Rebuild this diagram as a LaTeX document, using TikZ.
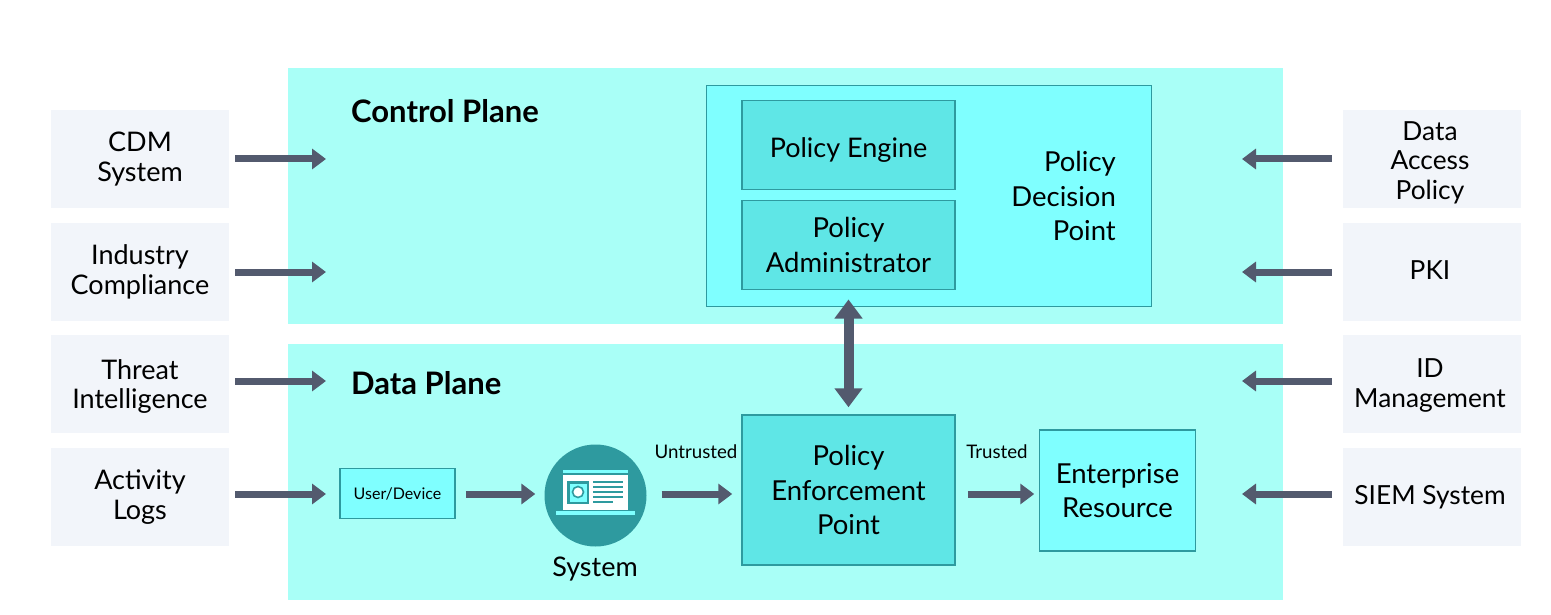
\documentclass[tikz,border=0pt]{standalone}
\usepackage{fontspec}
\setmainfont{Lato}
\usetikzlibrary{arrows.meta}
\definecolor{plane}{HTML}{A9FFF7}
\definecolor{light}{HTML}{7FFFFF}
\definecolor{mid}{HTML}{5FE6E6}
\definecolor{edge}{HTML}{2E9A9F}
\definecolor{teal}{HTML}{2E9A9F}
\definecolor{srcbox}{HTML}{F2F5FA}
\definecolor{flowc}{HTML}{535A6E}
\newcommand{\tophold}[1]{\rule{0pt}{#1pt}}
\newcommand{\rgt}{\rule{4pt}{0pt}}
\tikzset{
  x=1pt,y=-1pt,
  txt/.style={font=\fontsize{27}{29.5}\selectfont,align=center,text=black,inner sep=0pt},
  bigtxt/.style={font=\fontsize{27.5}{34.5}\selectfont,align=center,text=black,inner sep=0pt},
  src/.style={fill=srcbox,draw=none,minimum width=178pt,minimum height=98pt,inner sep=0pt,txt},
  rsrc/.style={src,font=\fontsize{26.3}{29.5}\selectfont},
  planebox/.style={fill=plane,draw=none,inner sep=0pt},
  lightbox/.style={fill=light,draw=edge,line width=1.5pt,inner sep=0pt},
  midbox/.style={fill=mid,draw=edge,line width=1.5pt,inner sep=0pt,bigtxt},
  flow/.style={draw=flowc,line width=7pt,-{Triangle[length=14pt,width=20pt]}},
  biflow/.style={draw=flowc,line width=10pt,{Triangle[length=19pt,width=27pt]}-{Triangle[length=19pt,width=27pt]}},
  heading/.style={font=\fontsize{31}{33}\selectfont\bfseries,text=black,inner sep=0pt,anchor=west},
  small/.style={font=\fontsize{18.7}{20}\selectfont,text=black,inner sep=0pt},
}
\begin{document}
\begin{tikzpicture}
\useasboundingbox (0,0) rectangle (1551,615);
\fill[white] (0,0) rectangle (1551,615);
% planes
\node[planebox,minimum width=995pt,minimum height=256pt] (cp) at (785.5,196) {};
\node[planebox,minimum width=995pt,minimum height=256pt] (dp) at (785.5,472) {};
\node[heading] (cpt) at (351,111) {Control Plane};
\node[heading] (dpt) at (351,383) {Data Plane};
% left sources
\node[src] (cdm) at (140,159) {CDM\\System};
\node[src] (ind) at (140,272) {Industry\\Compliance};
\node[src] (thr) at (140,384) {\tophold{25}Threat\\Intelligence};
\node[src] (act) at (140,497) {Activity\\Logs};
% right sources
\node[rsrc] (dap) at (1432,159) {\tophold{26}Data\rgt\\Access\rgt\\Policy\rgt};
\node[rsrc] (pki) at (1432,272) {\rule[-4pt]{0pt}{0pt}PKI\rgt};
\node[rsrc] (idm) at (1432,384) {\tophold{22}ID\rgt\\Management\rgt};
\node[rsrc] (siem) at (1432,497) {SIEM System\rgt};
% PDP
\node[lightbox,minimum width=445pt,minimum height=221pt] (pdp) at (929,196) {};
\node[midbox,minimum width=213pt,minimum height=89pt,txt,text height=27pt,text depth=1pt] (pe) at (848.5,145) {Policy Engine};
\node[midbox,minimum width=213pt,minimum height=89pt] (pa) at (848.5,245) {Policy\\Administrator};
\node[bigtxt,align=right,anchor=east] (pdpt) at (1116,196) {Policy\\Decision\\Point};
% data plane items
\node[lightbox,minimum width=115pt,minimum height=50pt,font=\fontsize{16}{18}\selectfont] (ud) at (397.5,493.5) {User/Device};
\node[circle,fill=teal,draw=none,minimum size=102pt,inner sep=0pt] (sys) at (595.5,495.5) {};
\node[txt,anchor=north] (syst) at (595,557) {System};
\node[midbox,minimum width=213pt,minimum height=150pt] (pep) at (848.5,490) {Policy\\Enforcement\\Point};
\node[lightbox,minimum width=156pt,minimum height=121pt,bigtxt] (er) at (1117.5,490.5) {Enterprise\\Resource};
\node[small] (unt) at (696,452) {Untrusted};
\node[small] (tru) at (997,452) {Trusted};
% system icon
\fill[light] (563,469.5) rectangle (628,472.5);
\fill[white] (563,475) rectangle (628,509.5);
\fill[light] (556,511) rectangle (635,515);
\fill[teal] (567,481) rectangle (589,504);
\fill[light] (569.5,483.5) rectangle (586.5,501.5);
\draw[teal,line width=1.6pt,fill=white] (578,492) circle (5.5);
\foreach \yy in {481.7,486.7,491.7,496.7}{\fill[teal] (593,\yy-1) rectangle (623,\yy+1);}
\fill[teal] (593,500.7) rectangle (613,502.7);
% free ends
\coordinate (lc) at (326,159);
\coordinate (li) at (326,272);
\coordinate (lt) at (326,381);
\coordinate (la) at (326,494);
\coordinate (rd) at (1242,159);
\coordinate (rp) at (1242,272);
\coordinate (ri) at (1242,381);
\coordinate (rs) at (1242,494);
\coordinate (bt) at (848.5,299.5);
% connectors
\draw[flow,shorten <=6pt] (cdm.east) -- (lc);
\draw[flow,shorten <=6pt] (ind.east) -- (li);
\draw[flow,shorten <=6pt] (thr.east |- lt) -- (lt);
\draw[flow,shorten <=6pt] (act.east |- la) -- (la);
\draw[flow,shorten <=11pt] (dap.west) -- (rd);
\draw[flow,shorten <=11pt] (pki.west) -- (rp);
\draw[flow,shorten <=11pt] (idm.west |- ri) -- (ri);
\draw[flow,shorten <=11pt] (siem.west |- rs) -- (rs);
\draw[flow,shorten <=10pt,shorten >=9pt] (ud.east |- la) -- (sys.west |- la);
\draw[flow,shorten <=15pt,shorten >=9pt] (sys.east |- la) -- (pep.west |- la);
\draw[flow,shorten <=12pt,shorten >=4.5pt] (pep.east |- la) -- (er.west |- la);
\draw[biflow] (bt) -- ([yshift=7pt]pep.north);
\end{tikzpicture}
\end{document}
